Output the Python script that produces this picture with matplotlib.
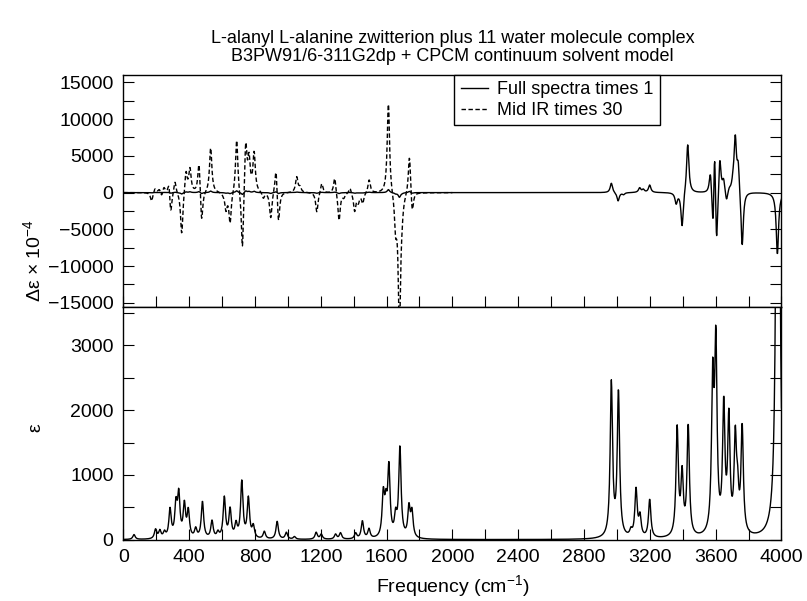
import numpy as np
import matplotlib.pyplot as plt
from matplotlib.ticker import MultipleLocator

plt.rcParams['font.family'] = ['Liberation Sans', 'DejaVu Sans']
plt.rcParams['mathtext.default'] = 'regular'

# IR bands: centre (cm-1) and peak height of epsilon
ir_pos = [65, 196, 222, 250, 284, 320, 337, 371, 395, 440, 481, 539, 575,
          614, 649, 685, 720, 760, 790, 857, 935, 991, 1040, 1172, 1203,
          1290, 1320, 1412, 1453, 1493, 1580, 1596, 1614, 1655, 1681, 1736,
          1754, 2966, 3009, 3085, 3116, 3140, 3199, 3366, 3396, 3433, 3582,
          3601, 3649, 3680, 3719, 3733, 3761, 3978]
ir_height = [80, 170, 160, 150, 500, 665, 795, 614, 500, 200, 598, 306, 150,
             675, 510, 300, 923, 675, 250, 133, 286, 117, 50, 117, 90,
             90, 110, 110, 296, 179, 820, 790, 1206, 500, 1464, 572,
             500, 2469, 2340, 200, 810, 430, 630, 1773, 1144, 1800, 2820,
             3319, 2237, 2031, 1773, 1181, 1809, 15600]

# VCD bands (delta-epsilon x 1e-4, full scale)
vcd_pos = [172, 193, 219, 233, 247, 278, 288, 314, 355, 381, 405, 460, 476,
           531, 608, 624, 649, 689, 724, 744, 764, 795, 851, 896, 928, 943,
           1054, 1074, 1176, 1206, 1285, 1311, 1340, 1378, 1406, 1428, 1455,
           1494, 1611, 1655, 1678, 1693, 1739, 1756,
           2966, 3007, 3040, 3138, 3160, 3199, 3360, 3396, 3430, 3568, 3585,
           3593, 3605, 3625, 3648, 3666, 3683, 3706, 3719, 3737, 3761, 3975]
vcd_height = [-37.8, 16.7, 13.3, -10, 22.7, 22.7, -78.7, 46.7, -184, 95,
              114.7, 125.3, -116.3, 203.8, -22.7, -86, -139, 238.7, -241.7,
              226.7, 182.7, 188.7, -25.7, -113.3, 90.7, -123.7, 72.5, 31.7,
              -86.7, 40, 63.3, -126.7, -27, 18.3, -86, -53, -50, 57.3, 404.7,
              -206.7, -640, -193.3, 156.7, -74.7,
              1270, -1130, -300, 680, 500, 1040, -1590, -4490, 6490, 2400,
              -3130, 4220, -5760, 4310, 1900, -860, 700, 3310, 7930, 4220,
              -7120, -8390]

mid_ir_limit = 2000
mid_ir_scale = 30
hwhm = 8.5


def band_amplitudes(pos, height, width):
    # amplitudes so that the summed bands pass through the read peak heights
    pos = np.asarray(pos, float)
    d = pos[:, None] - pos[None, :]
    kernel = width ** 2 / (d ** 2 + width ** 2)
    return np.linalg.solve(kernel, np.asarray(height, float))


def spectrum(freq, pos, height, width):
    amp = band_amplitudes(pos, height, width)
    d = freq[:, None] - np.asarray(pos, float)[None, :]
    return (amp * width ** 2 / (d ** 2 + width ** 2)).sum(axis=1)


freq = np.arange(0, 4000.1, 2.0)
ir = spectrum(freq, ir_pos, ir_height, hwhm)
vcd = spectrum(freq, vcd_pos, vcd_height, hwhm)
mid = freq <= mid_ir_limit

fig = plt.figure(figsize=(8.07, 6.01), dpi=100)
ax1 = fig.add_axes([0.1528, 0.4900, 0.8156, 0.3852])
ax2 = fig.add_axes([0.1528, 0.1020, 0.8156, 0.3880], sharex=ax1)

ax1.plot(freq, vcd, color='black', lw=1.0, label='Full spectra times 1')
ax1.plot(freq[mid], vcd[mid] * mid_ir_scale, color='black', lw=1.0,
         ls=(0, (3.2, 1.8)), label='Mid IR times 30')
ax2.plot(freq, ir, color='black', lw=1.0)

ax1.set_xlim(0, 4000)
ax1.set_ylim(-15500, 16000)
ax2.set_ylim(0, 3600)

ax1.yaxis.set_major_locator(MultipleLocator(5000))
ax1.yaxis.set_minor_locator(MultipleLocator(2500))
ax2.yaxis.set_major_locator(MultipleLocator(1000))
ax2.yaxis.set_minor_locator(MultipleLocator(500))
ax2.xaxis.set_major_locator(MultipleLocator(400))
ax2.xaxis.set_minor_locator(MultipleLocator(200))

for ax in (ax1, ax2):
    ax.tick_params(which='both', direction='in', length=8, width=0.8,
                   top=False, right=True, labelsize=14, pad=7)
    for s in ax.spines.values():
        s.set_linewidth(1.0)
ax1.tick_params(axis='x', labelbottom=False)

ax1.set_ylabel('Δε × 10$^{-4}$', fontsize=14)
ax1.yaxis.set_label_coords(-0.12, 0.20)
ax2.set_ylabel('ε', fontsize=14)
ax2.yaxis.set_label_coords(-0.12, 0.48)
ax2.set_xlabel('Frequency (cm$^{-1}$)', fontsize=14, labelpad=5)

ax1.set_title('L-alanyl L-alanine zwitterion plus 11 water molecule complex\n'
              'B3PW91/6-311G2dp + CPCM continuum solvent model',
              fontsize=13, linespacing=1.1, pad=10)

leg = ax1.legend(loc='upper left', bbox_to_anchor=(0.503, 1.0),
                 borderaxespad=0, fontsize=13, handlelength=1.5,
                 handletextpad=0.5, borderpad=0.35, labelspacing=0.2,
                 fancybox=False, framealpha=1, edgecolor='black')
leg.get_frame().set_linewidth(1.0)

fig.savefig('out.png', dpi=100)
plt.close()
